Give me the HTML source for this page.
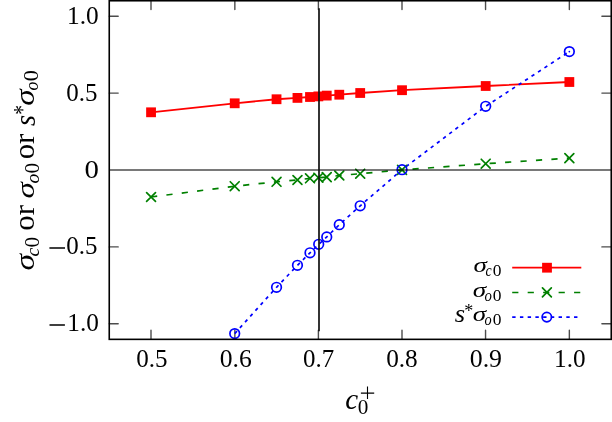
<!DOCTYPE html>
<html><head><meta charset="utf-8"><style>
html,body{margin:0;padding:0;background:#fff;}
svg{display:block;}
.tx{opacity:0.999;}
text{font-family:"Liberation Serif",serif;font-size:100px;fill:#000;}
</style></head><body>
<svg width="612" height="422" viewBox="0 0 612 422">
<path d="M151 339.3V330.2M151 0.8V9.6M234.85 339.3V330.2M234.85 0.8V9.6M318.4 339.3V330.2M318.4 0.8V9.6M402 339.3V330.2M402 0.8V9.6M485.55 339.3V330.2M485.55 0.8V9.6M569.35 339.3V330.2M569.35 0.8V9.6M109.3 323.8H118.2M611.2 323.8H601.9M109.3 246.9H118.2M611.2 246.9H601.9M109.3 93.1H118.2M611.2 93.1H601.9M109.3 16.2H118.2M611.2 16.2H601.9" stroke="#000" stroke-opacity="0.7" stroke-width="1.4" fill="none" stroke-linecap="round"/>
<defs><clipPath id="c"><rect x="109" y="0.9" width="502" height="338.2"/></clipPath></defs>
<g clip-path="url(#c)">
<polyline points="151.05,112.3 234.71,103.3 276.54,99.25 297.46,97.9 310,97 318.37,96.4 326.74,95.6 339.28,94.7 360.2,93 402.03,90.2 485.69,86 569.35,82" fill="none" stroke="#f00" stroke-width="1.8" stroke-linejoin="round"/>
<polyline points="151.05,197 234.71,186.2 276.54,181.8 297.46,180 310,178.3 318.37,177.7 326.74,177.1 339.28,175.5 360.2,173.7 402.03,169.9 485.69,163.7 569.35,158.15" fill="none" stroke="#008000" stroke-width="1.7" stroke-dasharray="6.2 9.27"/>
<polyline points="234.71,333.6 276.54,287.3 297.46,265.3 310,252.8 318.7,244.3 326.74,236.9 339.28,224.7 360.2,205.8 402.03,169.7 485.69,106.3 569.35,51.6" fill="none" stroke="#00f" stroke-width="1.7" stroke-dasharray="3.4 4.33"/>
<rect x="146.15" y="107.4" width="9.8" height="9.8" fill="#f00"/>
<rect x="229.81" y="98.4" width="9.8" height="9.8" fill="#f00"/>
<rect x="271.64" y="94.35" width="9.8" height="9.8" fill="#f00"/>
<rect x="292.56" y="93" width="9.8" height="9.8" fill="#f00"/>
<rect x="305.1" y="92.1" width="9.8" height="9.8" fill="#f00"/>
<rect x="313.47" y="91.5" width="9.8" height="9.8" fill="#f00"/>
<rect x="321.84" y="90.7" width="9.8" height="9.8" fill="#f00"/>
<rect x="334.38" y="89.8" width="9.8" height="9.8" fill="#f00"/>
<rect x="355.3" y="88.1" width="9.8" height="9.8" fill="#f00"/>
<rect x="397.13" y="85.3" width="9.8" height="9.8" fill="#f00"/>
<rect x="480.79" y="81.1" width="9.8" height="9.8" fill="#f00"/>
<rect x="564.45" y="77.1" width="9.8" height="9.8" fill="#f00"/>
<path d="M146.6 192.55L155.5 201.45M146.6 201.45L155.5 192.55" stroke="#008000" stroke-width="1.7" fill="none" stroke-linecap="round"/>
<path d="M230.26 181.75L239.16 190.65M230.26 190.65L239.16 181.75" stroke="#008000" stroke-width="1.7" fill="none" stroke-linecap="round"/>
<path d="M272.09 177.35L280.99 186.25M272.09 186.25L280.99 177.35" stroke="#008000" stroke-width="1.7" fill="none" stroke-linecap="round"/>
<path d="M293.01 175.55L301.91 184.45M293.01 184.45L301.91 175.55" stroke="#008000" stroke-width="1.7" fill="none" stroke-linecap="round"/>
<path d="M305.55 173.85L314.45 182.75M305.55 182.75L314.45 173.85" stroke="#008000" stroke-width="1.7" fill="none" stroke-linecap="round"/>
<path d="M313.92 173.25L322.82 182.15M313.92 182.15L322.82 173.25" stroke="#008000" stroke-width="1.7" fill="none" stroke-linecap="round"/>
<path d="M322.29 172.65L331.19 181.55M322.29 181.55L331.19 172.65" stroke="#008000" stroke-width="1.7" fill="none" stroke-linecap="round"/>
<path d="M334.83 171.05L343.73 179.95M334.83 179.95L343.73 171.05" stroke="#008000" stroke-width="1.7" fill="none" stroke-linecap="round"/>
<path d="M355.75 169.25L364.65 178.15M355.75 178.15L364.65 169.25" stroke="#008000" stroke-width="1.7" fill="none" stroke-linecap="round"/>
<path d="M397.58 165.45L406.48 174.35M397.58 174.35L406.48 165.45" stroke="#008000" stroke-width="1.7" fill="none" stroke-linecap="round"/>
<path d="M481.24 159.25L490.14 168.15M481.24 168.15L490.14 159.25" stroke="#008000" stroke-width="1.7" fill="none" stroke-linecap="round"/>
<path d="M564.9 153.7L573.8 162.6M564.9 162.6L573.8 153.7" stroke="#008000" stroke-width="1.7" fill="none" stroke-linecap="round"/>
<circle cx="234.71" cy="333.6" r="4.8" stroke="#00f" stroke-width="1.7" fill="none"/>
<circle cx="276.54" cy="287.3" r="4.8" stroke="#00f" stroke-width="1.7" fill="none"/>
<circle cx="297.46" cy="265.3" r="4.8" stroke="#00f" stroke-width="1.7" fill="none"/>
<circle cx="310" cy="252.8" r="4.8" stroke="#00f" stroke-width="1.7" fill="none"/>
<circle cx="318.7" cy="244.3" r="4.8" stroke="#00f" stroke-width="1.7" fill="none"/>
<circle cx="326.74" cy="236.9" r="4.8" stroke="#00f" stroke-width="1.7" fill="none"/>
<circle cx="339.28" cy="224.7" r="4.8" stroke="#00f" stroke-width="1.7" fill="none"/>
<circle cx="360.2" cy="205.8" r="4.8" stroke="#00f" stroke-width="1.7" fill="none"/>
<circle cx="402.03" cy="169.7" r="4.8" stroke="#00f" stroke-width="1.7" fill="none"/>
<circle cx="485.69" cy="106.3" r="4.8" stroke="#00f" stroke-width="1.7" fill="none"/>
<circle cx="569.35" cy="51.6" r="4.8" stroke="#00f" stroke-width="1.7" fill="none"/>
<circle cx="569.35" cy="51.6" r="0.85" fill="#00f"/>
<path d="M109 170H611" stroke="#000" stroke-opacity="0.7" stroke-width="1.4" fill="none"/>
</g>
<path d="M319 8.2V331.2" stroke="#111" stroke-width="1.7"/>
<rect x="109.25" y="0.75" width="502" height="338.6" fill="none" stroke="#000" stroke-width="1.6"/>
<path d="M49.4 248H65M49.5 325H64.9" stroke="#000" stroke-width="1.6"/>
<path d="M512.2 267.7H581.3" stroke="#f00" stroke-width="1.8"/>
<rect x="542.1" y="262.8" width="9.8" height="9.8" fill="#f00"/>
<path d="M512.2 292.5H581.3" stroke="#008000" stroke-width="1.7" stroke-dasharray="6.2 9.27"/>
<path d="M542.45 287.95l8.9 8.9M542.45 296.85l8.9 -8.9" stroke="#008000" stroke-width="1.7" stroke-linecap="round"/>
<path d="M512.2 317.2H581.3" stroke="#00f" stroke-width="1.7" stroke-dasharray="3.4 4.33"/>
<circle cx="546.8" cy="317.1" r="4.7" stroke="#00f" stroke-width="1.7" fill="none"/>
<path d="M360.9 393.1H374.2M367.5 386.5V399.1" stroke="#000" stroke-width="1.1"/>
<g class="tx"><text transform="translate(67.07 24.24) scale(0.2536 0.2562)">1.0</text><text transform="translate(66.25 100.54) scale(0.2498 0.2562)">0.5</text><text transform="translate(84.6 177.65) scale(0.2879 0.2579)">0</text><text transform="translate(66.35 254.24) scale(0.2498 0.2562)">0.5</text><text transform="translate(67.28 331.14) scale(0.2527 0.2562)">1.0</text><text transform="translate(136.15 367.44) scale(0.2507 0.2577)">0.5</text><text transform="translate(219.72 367.44) scale(0.2563 0.2577)">0.6</text><text transform="translate(303.05 367.44) scale(0.2493 0.2577)">0.7</text><text transform="translate(386.14 367.44) scale(0.2530 0.2577)">0.8</text><text transform="translate(469.71 367.44) scale(0.2588 0.2577)">0.9</text><text transform="translate(554.03 367.44) scale(0.2522 0.2577)">1.0</text><text transform="translate(473.49 271.69) scale(0.2706 0.2189)" font-style="italic">σ</text><text transform="translate(485.47 275.54) scale(0.1392 0.1643)" font-style="italic">c</text><text transform="translate(492.74 275.53) scale(0.1746 0.1704)">0</text><text transform="translate(472.79 297.29) scale(0.2706 0.2189)" font-style="italic">σ</text><text transform="translate(484.56 300.94) scale(0.1476 0.1643)" font-style="italic">o</text><text transform="translate(492.84 300.93) scale(0.1746 0.1704)">0</text><text transform="translate(472.69 321.49) scale(0.2706 0.2189)" font-style="italic">σ</text><text transform="translate(484.57 325.04) scale(0.1430 0.1643)" font-style="italic">o</text><text transform="translate(492.64 325.03) scale(0.1746 0.1704)">0</text><text transform="translate(454.68 321.76) scale(0.2654 0.2474)" font-style="italic">s</text><text transform="translate(464.22 317.32) scale(0.1810 0.1882)">*</text><text transform="translate(345.21 409.42) scale(0.2908 0.2890)" font-style="italic">c</text><text transform="translate(357.69 413.9) scale(0.2124 0.2045)">0</text><text transform="rotate(-90) translate(-270.6 34.14) scale(0.3353 0.2627)" font-style="italic">σ</text><text transform="rotate(-90) translate(-256.41 38.71) scale(0.1988 0.1913)" font-style="italic">c</text><text transform="rotate(-90) translate(-247.61 38.99) scale(0.2124 0.2119)">0</text><text transform="rotate(-90) translate(-230.78 34.21) scale(0.3104 0.2952)">or</text><text transform="rotate(-90) translate(-198.49 33.85) scale(0.3312 0.2570)" font-style="italic">σ</text><text transform="rotate(-90) translate(-183.39 38.71) scale(0.1975 0.1913)" font-style="italic">o</text><text transform="rotate(-90) translate(-173.61 38.99) scale(0.2124 0.2119)">0</text><text transform="rotate(-90) translate(-159.37 34.21) scale(0.3078 0.2952)">or</text><text transform="rotate(-90) translate(-125.95 34.71) scale(0.2827 0.2973)" font-style="italic">s</text><text transform="rotate(-90) translate(-114.74 31.37) scale(0.1934 0.2454)">*</text><text transform="rotate(-90) translate(-105.79 34.34) scale(0.3312 0.2646)" font-style="italic">σ</text><text transform="rotate(-90) translate(-90.53 38.41) scale(0.1771 0.1954)" font-style="italic">o</text><text transform="rotate(-90) translate(-81.25 38.29) scale(0.2241 0.2119)">0</text></g>
</svg>
</body></html>
